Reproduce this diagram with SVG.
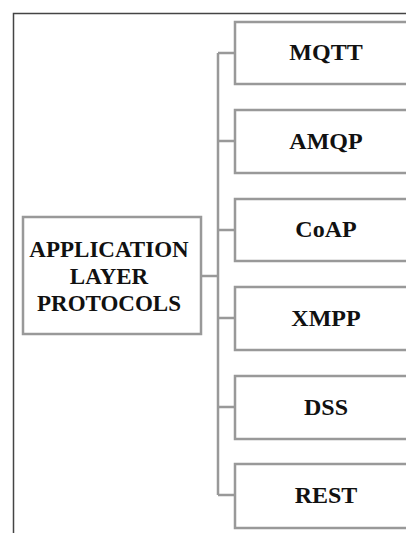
<svg xmlns="http://www.w3.org/2000/svg" width="406" height="533" viewBox="0 0 406 533">
<style>
.box{fill:#fff;stroke:#999;stroke-width:2.5}
.con{fill:none;stroke:#999;stroke-width:2.5}
.t{font-family:"Liberation Serif",serif;font-weight:bold;font-size:24px;fill:#111;text-anchor:middle}
.r{font-size:23px}
</style>
<rect width="406" height="533" fill="#fff"/>
<path d="M13.5,533 V13.5 H406" fill="none" stroke="#444" stroke-width="1.5"/>
<g id="connectors">
<path class="con" d="M218,53 V495"/>
<path class="con" d="M201,276 H218" stroke-width="3"/>
<path class="con" d="M218,53 H235 M218,141 H235 M218,230 H235 M218,318 H235 M218,407 H235 M218,495 H235"/>
</g>
<g id="root">
<rect class="box" x="23" y="217" width="178" height="117"/>
<text class="t r" x="109" y="257">APPLICATION</text>
<text class="t r" x="109" y="284">LAYER</text>
<text class="t r" x="109" y="311">PROTOCOLS</text>
</g>
<g id="mqtt"><rect class="box" x="235" y="22" width="190" height="62"/><text class="t" x="326" y="60">MQTT</text></g>
<g id="amqp"><rect class="box" x="235" y="110" width="190" height="63"/><text class="t" x="326" y="149">AMQP</text></g>
<g id="coap"><rect class="box" x="235" y="199" width="190" height="62"/><text class="t" x="326" y="237">CoAP</text></g>
<g id="xmpp"><rect class="box" x="235" y="287" width="190" height="63"/><text class="t" x="326" y="326">XMPP</text></g>
<g id="dss"><rect class="box" x="235" y="376" width="190" height="63"/><text class="t" x="326" y="415">DSS</text></g>
<g id="rest"><rect class="box" x="235" y="464" width="190" height="64"/><text class="t" x="326" y="503">REST</text></g>
</svg>
